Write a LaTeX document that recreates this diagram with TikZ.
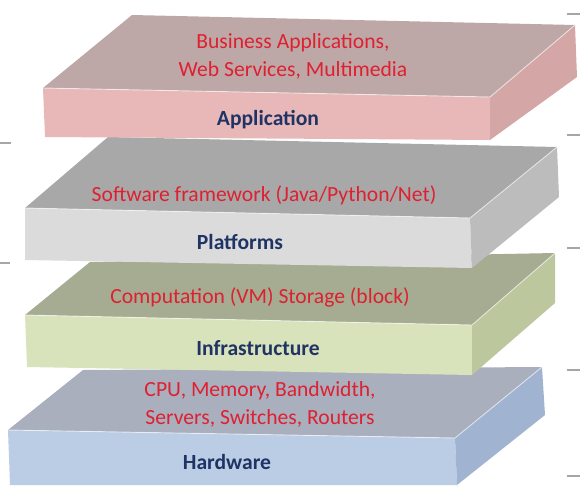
\documentclass[tikz,border=0pt]{standalone}
\usepackage{fontspec}
\setmainfont{Carlito}
\usepackage{tikz}

\definecolor{apptop}{RGB}{190,167,167}
\definecolor{appfront}{RGB}{232,184,184}
\definecolor{appside}{RGB}{212,166,166}
\definecolor{plattop}{RGB}{168,168,168}
\definecolor{platfront}{RGB}{219,219,219}
\definecolor{platside}{RGB}{188,188,188}
\definecolor{infratop}{RGB}{165,172,145}
\definecolor{infrafront}{RGB}{216,227,188}
\definecolor{infraside}{RGB}{188,199,158}
\definecolor{hwtop}{RGB}{170,175,190}
\definecolor{hwfront}{RGB}{186,205,228}
\definecolor{hwside}{RGB}{160,180,210}
\definecolor{itemred}{RGB}{222,32,48}
\definecolor{layerblue}{RGB}{31,52,100}

\tikzset{
	items/.style={text=itemred,align=center,font=\fontsize{21.6}{28}\selectfont},
	layer/.style={text=layerblue,font=\fontsize{21.6}{26}\selectfont\bfseries},
	shine/.style={draw=white,opacity=0.6,line width=0.9pt},
	tick/.style={draw=gray!70,line width=1.2pt}
}

\begin{document}
\begin{tikzpicture}[x=1pt,y=-1pt]
	\useasboundingbox (0,0) rectangle (580,485);
	% hardware
	\fill [hwtop] (83,370) -- (542,367) -- (455,438) -- (8,430) -- cycle;
	\fill [hwfront] (8,430) -- (455,438) -- (457,485) -- (10,485) -- cycle;
	\fill [hwside] (455,438) -- (542,367) -- (545,415) -- (457,485) -- cycle;
	\draw [shine] (8,430) -- (455,438) -- (542,367);
	% infrastructure
	\fill [infratop] (90,262) -- (555,253) -- (472,325) -- (25,315) -- cycle;
	\fill [infrafront] (25,315) -- (472,325) -- (472,375) -- (27,367) -- cycle;
	\fill [infraside] (472,325) -- (555,253) -- (555,303) -- (472,375) -- cycle;
	\draw [shine] (25,315) -- (472,325) -- (555,253);
	% platforms
	\fill [plattop] (108,137) -- (557,147) -- (470,218) -- (25,208) -- cycle;
	\fill [platfront] (25,208) -- (470,218) -- (472,268) -- (25,260) -- cycle;
	\fill [platside] (470,218) -- (557,147) -- (559,197) -- (472,268) -- cycle;
	\draw [shine] (25,208) -- (470,218) -- (557,147);
	% application
	\fill [apptop] (132,15) -- (575,25) -- (490,97) -- (43,88) -- cycle;
	\fill [appfront] (43,88) -- (490,97) -- (490,140) -- (45,137) -- cycle;
	\fill [appside] (490,97) -- (575,25) -- (577,77) -- (490,140) -- cycle;
	\draw [shine] (43,88) -- (490,97) -- (575,25);

	\draw (293,56) node (biz) [items] {Business Applications,\\Web Services, Multimedia};
	\draw (268,120) node (app) [layer] {Application};
	\draw (264,195) node (sw) [items] {Software framework (Java/Python/Net)};
	\draw (240,242) node (plat) [layer] {Platforms};
	\draw (260,297) node (comp) [items] {Computation (VM) Storage (block)};
	\draw (258,348) node (infra) [layer] {Infrastructure};
	\draw (260,404) node (cpu) [items] {CPU, Memory, Bandwidth,\\Servers, Switches, Routers};
	\draw (227,462) node (hw) [layer] {Hardware};

	% margin ticks
	\foreach \y in {14,135,248,370,476} {
		\draw [tick] (567,\y) -- (580,\y);
	}
	\draw [tick] (0,143) -- (11,143);
	\draw [tick] (0,263) -- (10,263);
\end{tikzpicture}
\end{document}
